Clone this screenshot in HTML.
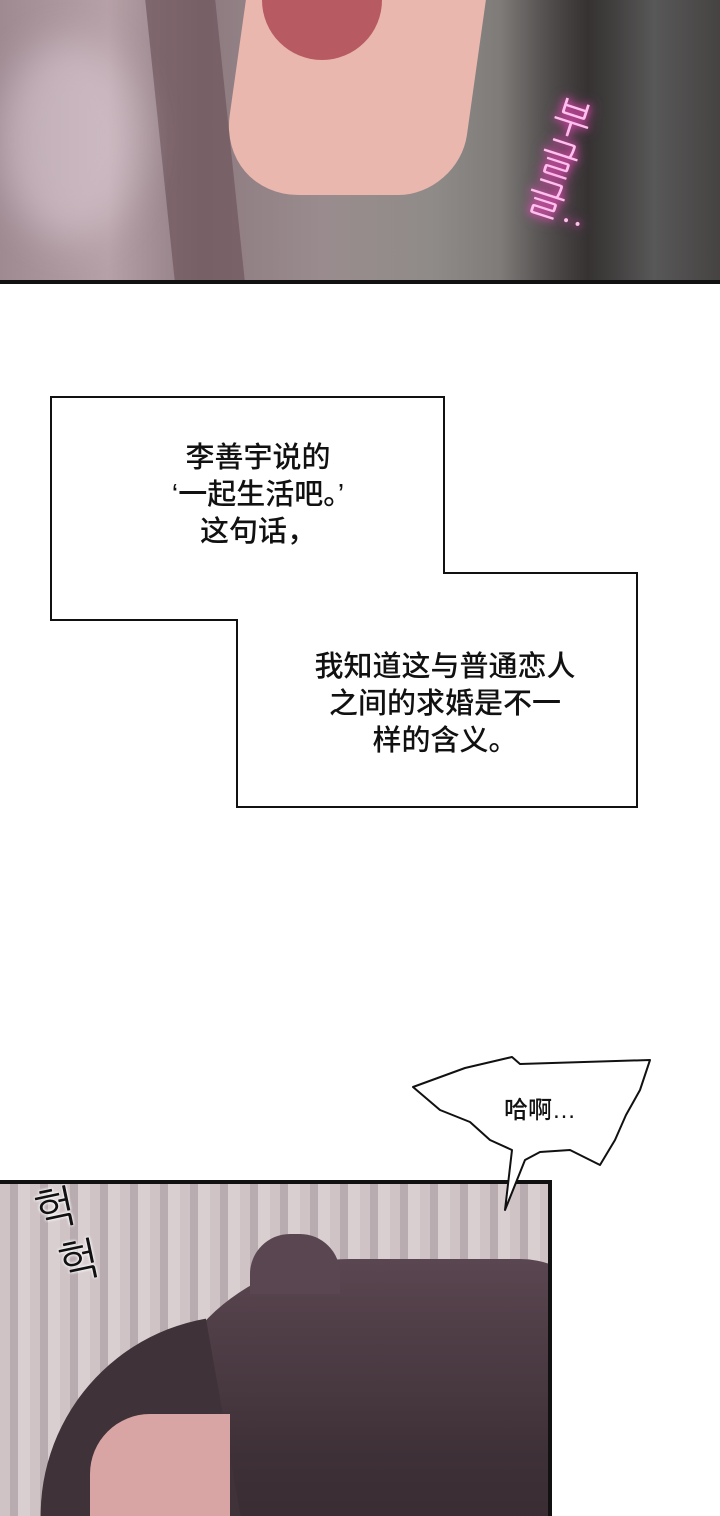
<!DOCTYPE html>
<html><head><meta charset="utf-8"><style>
html,body{margin:0;padding:0;background:#fff;}
body{width:720px;height:1516px;position:relative;overflow:hidden;font-family:"Liberation Sans","Noto Sans CJK SC",sans-serif;}
.abs{position:absolute;}
.t{position:absolute;font-size:29px;color:#111;text-align:center;line-height:37px;white-space:nowrap;font-weight:500;}
</style></head><body>
<div class="abs" style="left:0;top:0;width:720px;height:281px;background:linear-gradient(90deg,#9f8a92 0%,#b7a1a8 15%,#8d7a80 28%,#9a8c8e 45%,#8f8b88 60%,#7a7775 72%,#5a5856 85%,#777574 100%);overflow:hidden;">
  <div class="abs" style="left:235px;top:-40px;width:240px;height:235px;background:#e9b7ae;border-radius:0 0 60px 80px;transform:skewX(-8deg);"></div>
  <div class="abs" style="left:262px;top:-20px;width:120px;height:80px;background:#b85a62;border-radius:0 0 60px 60px;"></div>
  <div class="abs" style="left:160px;top:0;width:70px;height:281px;background:#6f555c;transform:skewX(6deg);opacity:.7;"></div>
  <div class="abs" style="left:500px;top:0;width:220px;height:281px;background:linear-gradient(90deg,rgba(40,35,35,0),#2b2727 40%,#555 70%,#3a3636);opacity:.8;"></div>
  <div class="abs" style="left:0;top:40px;width:140px;height:200px;background:rgba(230,215,225,.45);border-radius:50%;filter:blur(20px);"></div>
  <div class="abs" style="left:540px;top:100px;font-size:40px;color:#ffc0ee;text-shadow:0 0 8px #ff48c8,0 0 14px #ff48c8;transform:rotate(18deg);line-height:42px;font-family:'NanumGothic','Noto Sans CJK KR',sans-serif;">부<br>글<br>글..</div>
</div>
<div class="abs" style="left:0;top:280px;width:720px;height:4px;background:#111;"></div>

<svg class="abs" style="left:0;top:0" width="720" height="1516">
  <polygon points="51,397 444,397 444,573 637,573 637,807 237,807 237,620 51,620" fill="#fff" stroke="#111" stroke-width="2"/>
</svg>
<div class="t" style="left:108px;top:440px;width:300px;">李善宇说的<br>‘一起生活吧。’<br>这句话，</div>
<div class="t" style="left:295px;top:649px;width:300px;">我知道这与普通恋人<br>之间的求婚是不一<br>样的含义。</div>

<div class="abs" style="left:0;top:1180px;width:552px;height:336px;background:repeating-linear-gradient(90deg,#cfc3c6 0 10px,#b9acb0 10px 18px,#d9cfd1 18px 30px);overflow:hidden;border-top:4px solid #111;border-right:4px solid #111;box-sizing:border-box;">
  <div class="abs" style="left:150px;top:75px;width:460px;height:400px;background:linear-gradient(180deg,#5a4650,#3e3037 50%,#2e2428);border-radius:200px 90px 0 0;"></div>
  <div class="abs" style="left:250px;top:50px;width:90px;height:60px;background:#5a4650;border-radius:40px 40px 0 0;"></div>
  <div class="abs" style="left:30px;top:150px;width:200px;height:260px;background:#3f3238;border-radius:200px 0 0 0;transform:rotate(-10deg);"></div>
  <div class="abs" style="left:90px;top:230px;width:140px;height:130px;background:#d9a4a4;border-radius:60px 0 0 0;"></div>
  <div class="abs" style="left:40px;top:-5px;font-size:44px;color:#111;line-height:56px;font-family:'NanumGothic','Noto Sans CJK KR',sans-serif;transform:rotate(-12deg);text-shadow:0 0 3px #fff,0 0 3px #fff;">헉<br>&nbsp;헉</div>
</div>

<svg class="abs" style="left:0;top:0" width="720" height="1516">
  <polygon points="413,1087 465,1068 512,1057 520,1064 650,1060 640,1090 626,1115 615,1140 600,1165 570,1150 540,1152 525,1160 505,1210 512,1150 490,1140 470,1122 440,1110" fill="#fff" stroke="#111" stroke-width="2" stroke-linejoin="round"/>
</svg>
<div class="t" style="left:470px;top:1092px;width:140px;font-size:24px;">哈啊…</div>
</body></html>
